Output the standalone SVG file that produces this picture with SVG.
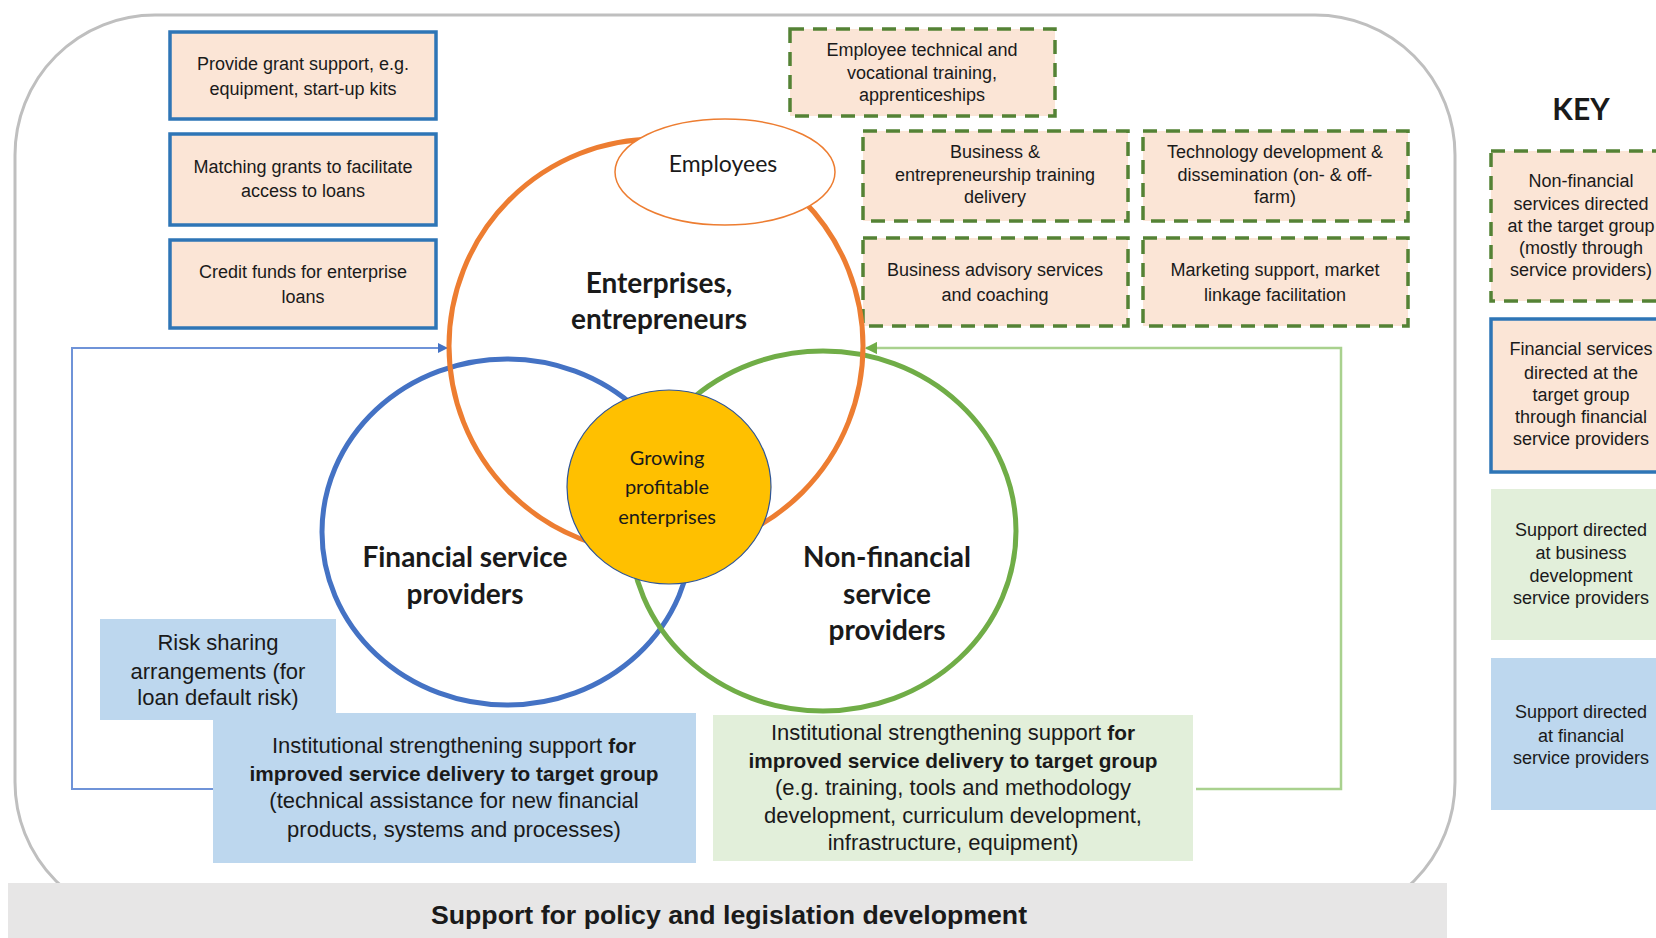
<svg xmlns="http://www.w3.org/2000/svg" width="1656" height="938" viewBox="0 0 1656 938">
<style>
.bx{font-family:"Liberation Sans Narrow","Liberation Sans",sans-serif;font-size:18px;fill:#1a1a1a;text-anchor:middle}
.bb{font-family:"Liberation Sans Narrow","Liberation Sans",sans-serif;font-size:22px;fill:#1a1a1a;text-anchor:middle}
.bd{font-weight:bold;font-size:20.8px}
.lb{font-family:Lato,"Liberation Sans",sans-serif;font-weight:bold;font-size:28px;fill:#1a1a1a;text-anchor:middle}
.yl{font-family:Lato,"Liberation Sans",sans-serif;font-size:20px;fill:#1a1a1a;text-anchor:middle}
.fin{fill:#FBE5D6;stroke:#2E75B6;stroke-width:3.5}
.nf{fill:#FBE5D6;stroke:#548235;stroke-width:3.5;stroke-dasharray:14 9}
.sb{fill:#BDD7EE}
.sg{fill:#E2EFDA}
</style>
<defs>
<marker id="ab" viewBox="0 0 10 10" refX="9" refY="5" markerWidth="5" markerHeight="5" orient="auto"><path d="M0,0 L10,5 L0,10 z" fill="#4472C4"/></marker>
<marker id="ag" viewBox="0 0 10 10" refX="9" refY="5" markerWidth="5" markerHeight="5" orient="auto"><path d="M0,0 L10,5 L0,10 z" fill="#70AD47"/></marker>
</defs>
<rect width="1656" height="938" fill="#fff"/>
<rect x="15" y="15" width="1440" height="907" rx="140" fill="#fff" stroke="#BFBFBF" stroke-width="3"/>
<g id="policy">
<rect x="8" y="883" width="1439" height="55" fill="#E7E6E6"/>
<text x="729" y="924" style="font-family:'Liberation Sans Narrow','Liberation Sans',sans-serif;font-weight:bold;font-size:26.7px;fill:#1a1a1a;text-anchor:middle">Support for policy and legislation development</text>
</g>
<g id="connectors">
<path d="M213,789 H72 V348 H447" fill="none" stroke="#6F93D8" stroke-width="2" marker-end="url(#ab)"/>
<path d="M1196,789 H1341 V348 H866" fill="none" stroke="#A9D18E" stroke-width="2.5" marker-end="url(#ag)"/>
</g>
<g id="grant"><rect class="fin" x="170" y="32" width="266" height="87"/>
<text class="bx" x="303" y="70">Provide grant support, e.g.</text><text class="bx" x="303" y="95">equipment, start-up kits</text></g>
<g id="matching"><rect class="fin" x="170" y="134" width="266" height="91"/>
<text class="bx" x="303" y="173">Matching grants to facilitate</text><text class="bx" x="303" y="197">access to loans</text></g>
<g id="credit"><rect class="fin" x="170" y="240" width="266" height="88"/>
<text class="bx" x="303" y="278">Credit funds for enterprise</text><text class="bx" x="303" y="303">loans</text></g>
<g id="employee-training"><rect class="nf" x="790" y="29" width="265" height="87"/>
<text class="bx" x="922" y="56">Employee technical and</text><text class="bx" x="922" y="79">vocational training,</text><text class="bx" x="922" y="101">apprenticeships</text></g>
<g id="business-training"><rect class="nf" x="863" y="131" width="265" height="90"/>
<text class="bx" x="995" y="158">Business &amp;</text><text class="bx" x="995" y="181">entrepreneurship training</text><text class="bx" x="995" y="203">delivery</text></g>
<g id="technology"><rect class="nf" x="1143" y="131" width="265" height="90"/>
<text class="bx" x="1275" y="158">Technology development &amp;</text><text class="bx" x="1275" y="181">dissemination (on- &amp; off-</text><text class="bx" x="1275" y="203">farm)</text></g>
<g id="advisory"><rect class="nf" x="863" y="238" width="265" height="88"/>
<text class="bx" x="995" y="276">Business advisory services</text><text class="bx" x="995" y="301">and coaching</text></g>
<g id="marketing"><rect class="nf" x="1143" y="238" width="265" height="88"/>
<text class="bx" x="1275" y="276">Marketing support, market</text><text class="bx" x="1275" y="301">linkage facilitation</text></g>
<g id="risk"><rect class="sb" x="100" y="619" width="236" height="101"/>
<text class="bb" x="218" y="650">Risk sharing</text><text class="bb" x="218" y="679">arrangements (for</text><text class="bb" x="218" y="705">loan default risk)</text></g>
<g id="inst-fin"><rect class="sb" x="213" y="713" width="483" height="150"/>
<text class="bb" x="454" y="753">Institutional strengthening support <tspan class="bd">for</tspan></text>
<text class="bb bd" x="454" y="781">improved service delivery to target group</text>
<text class="bb" x="454" y="808">(technical assistance for new financial</text>
<text class="bb" x="454" y="837">products, systems and processes)</text></g>
<g id="inst-nonfin"><rect class="sg" x="713" y="715" width="480" height="146"/>
<text class="bb" x="953" y="740">Institutional strengthening support <tspan class="bd">for</tspan></text>
<text class="bb bd" x="953" y="768">improved service delivery to target group</text>
<text class="bb" x="953" y="795">(e.g. training, tools and methodology</text>
<text class="bb" x="953" y="823">development, curriculum development,</text>
<text class="bb" x="953" y="850">infrastructure, equipment)</text></g>
<g id="fsp"><ellipse cx="507" cy="532" rx="185" ry="173" fill="none" stroke="#4472C4" stroke-width="5"/>
<text class="lb" x="465" y="567">Financial service</text><text class="lb" x="465" y="604">providers</text></g>
<g id="nfsp"><ellipse cx="823" cy="531" rx="193" ry="180" fill="none" stroke="#70AD47" stroke-width="5"/>
<text class="lb" x="887" y="567">Non-financial</text><text class="lb" x="887" y="604">service</text><text class="lb" x="887" y="640">providers</text></g>
<g id="enterprises"><circle cx="656" cy="346" r="207" fill="none" stroke="#ED7D31" stroke-width="5"/>
<text class="lb" x="659" y="293">Enterprises,</text><text class="lb" x="659" y="329">entrepreneurs</text></g>
<g id="employees"><ellipse cx="725" cy="172" rx="110" ry="53" fill="#fff" stroke="#ED7D31" stroke-width="1.5"/>
<text x="723" y="172" style="font-family:Lato,'Liberation Sans',sans-serif;font-size:23px;fill:#1a1a1a;text-anchor:middle">Employees</text></g>
<g id="growing"><ellipse cx="669" cy="487" rx="102" ry="97" fill="#FFC000" stroke="#2F5597" stroke-width="1.2"/>
<text class="yl" x="667" y="465">Growing</text><text class="yl" x="667" y="494">profitable</text><text class="yl" x="667" y="524">enterprises</text></g>
<g id="key">
<text x="1581" y="120" style="font-family:Lato,'Liberation Sans',sans-serif;font-weight:bold;font-size:30px;fill:#1a1a1a;text-anchor:middle">KEY</text>
<rect class="nf" x="1491" y="151" width="180" height="150"/>
<text class="bx" x="1581" y="187">Non-financial</text><text class="bx" x="1581" y="210">services directed</text><text class="bx" x="1581" y="232">at the target group</text><text class="bx" x="1581" y="254">(mostly through</text><text class="bx" x="1581" y="276">service providers)</text>
<rect class="fin" x="1491" y="319" width="180" height="153"/>
<text class="bx" x="1581" y="355">Financial services</text><text class="bx" x="1581" y="379">directed at the</text><text class="bx" x="1581" y="401">target group</text><text class="bx" x="1581" y="423">through financial</text><text class="bx" x="1581" y="445">service providers</text>
<rect class="sg" x="1491" y="489" width="180" height="151"/>
<text class="bx" x="1581" y="536">Support directed</text><text class="bx" x="1581" y="559">at business</text><text class="bx" x="1581" y="582">development</text><text class="bx" x="1581" y="604">service providers</text>
<rect class="sb" x="1491" y="658" width="180" height="152"/>
<text class="bx" x="1581" y="718">Support directed</text><text class="bx" x="1581" y="742">at financial</text><text class="bx" x="1581" y="764">service providers</text>
</g>
</svg>
